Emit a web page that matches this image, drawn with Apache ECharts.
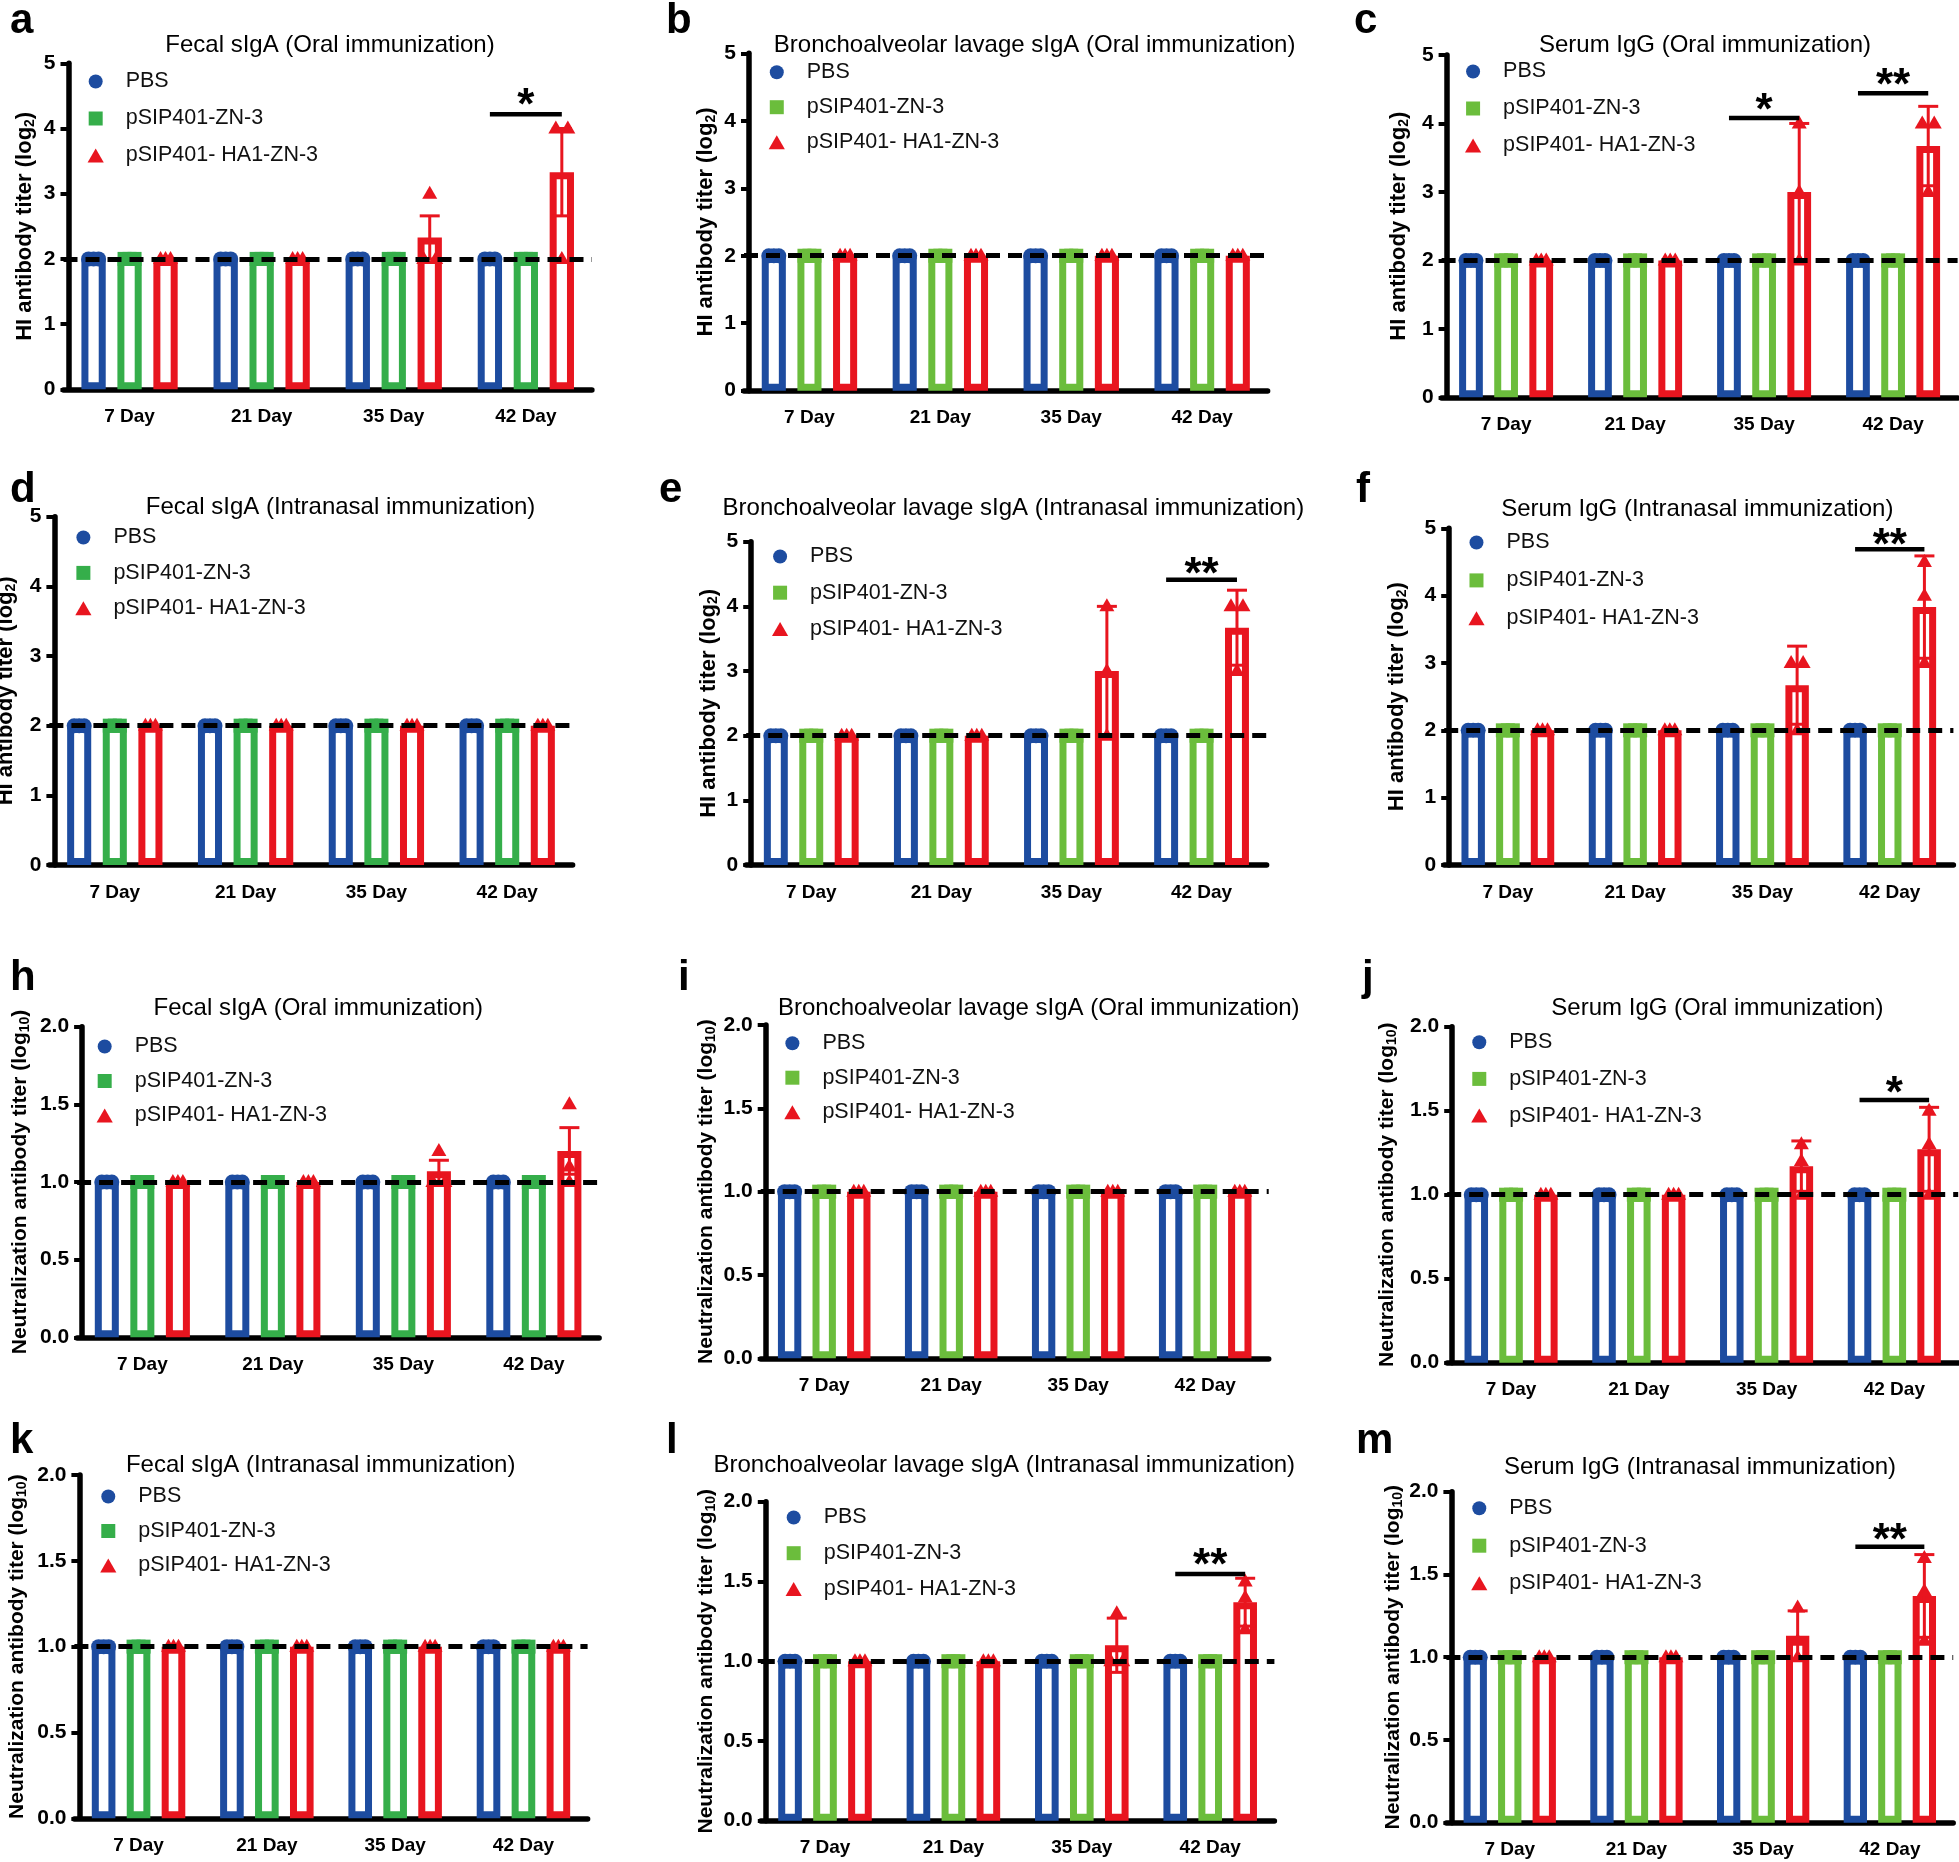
<!DOCTYPE html>
<html>
<head>
<meta charset="utf-8">
<script src="https://cdn.jsdelivr.net/npm/echarts@6/dist/echarts.min.js"></script>
<style>
  html, body { margin: 0; background: #fff; }
  #main { width: 1959px; height: 1862px; }
</style>
</head>
<body>
<div id="main"></div>
<script>
// ---- data ----
const days = ['7 Day', '21 Day', '35 Day', '42 Day'];
const groups = ['PBS', 'pSIP401-ZN-3', 'pSIP401- HA1-ZN-3'];
const panelLetters = ['a', 'b', 'c', 'd', 'e', 'f', 'h', 'i', 'j', 'k', 'l', 'm'];
const panelTitles = [
  'Fecal sIgA (Oral immunization)',
  'Bronchoalveolar lavage sIgA (Oral immunization)',
  'Serum IgG (Oral immunization)',
  'Fecal sIgA (Intranasal immunization)',
  'Bronchoalveolar lavage sIgA (Intranasal immunization)',
  'Serum IgG (Intranasal immunization)',
  'Fecal sIgA (Oral immunization)',
  'Bronchoalveolar lavage sIgA (Oral immunization)',
  'Serum IgG (Oral immunization)',
  'Fecal sIgA (Intranasal immunization)',
  'Bronchoalveolar lavage sIgA (Intranasal immunization)',
  'Serum IgG (Intranasal immunization)'
];
const hiAxisName = '{t|HI antibody titer (log}{s|2}{t|)}';
const ntAxisName = '{t|Neutralization antibody titer (log}{s|10}{t|)}';
const hiTicks = { max: 5, step: 1 };
const ntTicks = { max: 2, step: 0.5 };
const detectionLevel = [2, 2, 2, 2, 2, 2, 1, 1, 1, 1, 1, 1];

// bar means per panel (PBS, ZN-3, HA1-ZN-3)
const pbsMean = [
  [2, 2, 2, 2], [2, 2, 2, 2], [2, 2, 2, 2], [2, 2, 2, 2], [2, 2, 2, 2], [2, 2, 2, 2],
  [1, 1, 1, 1], [1, 1, 1, 1], [1, 1, 1, 1], [1, 1, 1, 1], [1, 1, 1, 1], [1, 1, 1, 1]
];
const znMean = [
  [2, 2, 2, 2], [2, 2, 2, 2], [2, 2, 2, 2], [2, 2, 2, 2], [2, 2, 2, 2], [2, 2, 2, 2],
  [1, 1, 1, 1], [1, 1, 1, 1], [1, 1, 1, 1], [1, 1, 1, 1], [1, 1, 1, 1], [1, 1, 1, 1]
];
const ha1Mean = [
  [2, 2, 2.33, 3.33], [2, 2, 2, 2], [2, 2, 3, 3.67], [2, 2, 2, 2], [2, 2, 3, 3.67], [2, 2, 2.67, 3.83],
  [1, 1, 1.07, 1.2], [1, 1, 1, 1], [1, 1, 1.17, 1.27], [1, 1, 1, 1], [1, 1, 1.1, 1.37], [1, 1, 1.13, 1.37]
];
const ha1Err = [
  [0, 0, 0.33, 0.67], [0, 0, 0, 0], [0, 0, 1, 0.58], [0, 0, 0, 0], [0, 0, 1, 0.58], [0, 0, 0.58, 0.76],
  [0, 0, 0.07, 0.15], [0, 0, 0, 0], [0, 0, 0.15, 0.25], [0, 0, 0, 0], [0, 0, 0.17, 0.15], [0, 0, 0.15, 0.25]
];

// individual animals (3 per group and day)
const pbsPoints = [
  [[2, 2, 2], [2, 2, 2], [2, 2, 2], [2, 2, 2]], [[2, 2, 2], [2, 2, 2], [2, 2, 2], [2, 2, 2]],
  [[2, 2, 2], [2, 2, 2], [2, 2, 2], [2, 2, 2]], [[2, 2, 2], [2, 2, 2], [2, 2, 2], [2, 2, 2]],
  [[2, 2, 2], [2, 2, 2], [2, 2, 2], [2, 2, 2]], [[2, 2, 2], [2, 2, 2], [2, 2, 2], [2, 2, 2]],
  [[1, 1, 1], [1, 1, 1], [1, 1, 1], [1, 1, 1]], [[1, 1, 1], [1, 1, 1], [1, 1, 1], [1, 1, 1]],
  [[1, 1, 1], [1, 1, 1], [1, 1, 1], [1, 1, 1]], [[1, 1, 1], [1, 1, 1], [1, 1, 1], [1, 1, 1]],
  [[1, 1, 1], [1, 1, 1], [1, 1, 1], [1, 1, 1]], [[1, 1, 1], [1, 1, 1], [1, 1, 1], [1, 1, 1]]
];
const znPoints = [
  [[2, 2, 2], [2, 2, 2], [2, 2, 2], [2, 2, 2]], [[2, 2, 2], [2, 2, 2], [2, 2, 2], [2, 2, 2]],
  [[2, 2, 2], [2, 2, 2], [2, 2, 2], [2, 2, 2]], [[2, 2, 2], [2, 2, 2], [2, 2, 2], [2, 2, 2]],
  [[2, 2, 2], [2, 2, 2], [2, 2, 2], [2, 2, 2]], [[2, 2, 2], [2, 2, 2], [2, 2, 2], [2, 2, 2]],
  [[1, 1, 1], [1, 1, 1], [1, 1, 1], [1, 1, 1]], [[1, 1, 1], [1, 1, 1], [1, 1, 1], [1, 1, 1]],
  [[1, 1, 1], [1, 1, 1], [1, 1, 1], [1, 1, 1]], [[1, 1, 1], [1, 1, 1], [1, 1, 1], [1, 1, 1]],
  [[1, 1, 1], [1, 1, 1], [1, 1, 1], [1, 1, 1]], [[1, 1, 1], [1, 1, 1], [1, 1, 1], [1, 1, 1]]
];
const ha1Points = [
  [[2, 2, 2], [2, 2, 2], [2, 2, 3], [2, 4, 4]],
  [[2, 2, 2], [2, 2, 2], [2, 2, 2], [2, 2, 2]],
  [[2, 2, 2], [2, 2, 2], [2, 3, 4], [3, 4, 4]],
  [[2, 2, 2], [2, 2, 2], [2, 2, 2], [2, 2, 2]],
  [[2, 2, 2], [2, 2, 2], [2, 3, 4], [3, 4, 4]],
  [[2, 2, 2], [2, 2, 2], [2, 3, 3], [3, 4, 4.5]],
  [[1, 1, 1], [1, 1, 1], [1, 1, 1.2], [1, 1.1, 1.5]],
  [[1, 1, 1], [1, 1, 1], [1, 1, 1], [1, 1, 1]],
  [[1, 1, 1], [1, 1, 1], [1, 1.2, 1.3], [1, 1.3, 1.5]],
  [[1, 1, 1], [1, 1, 1], [1, 1, 1], [1, 1, 1]],
  [[1, 1, 1], [1, 1, 1], [1, 1, 1.3], [1.2, 1.4, 1.5]],
  [[1, 1, 1], [1, 1, 1], [1, 1.1, 1.3], [1.1, 1.4, 1.6]]
];
// significance: panel, day index, bracket level, star level, label
const sigMarks = [
  [0, 3, 4.22, 4.49, '*'],
  [2, 2, 4.08, 4.32, '*'],
  [2, 3, 4.44, 4.68, '**'],
  [4, 3, 4.41, 4.62, '**'],
  [5, 3, 4.69, 4.88, '**'],
  [8, 3, 1.564, 1.653, '*'],
  [10, 3, 1.547, 1.655, '**'],
  [11, 3, 1.668, 1.758, '**']
];

// ---- layout ----
const panelBox = [ // left, top, width, height of plot area
  [63.5, 63.3, 528.4, 326], [744, 53.3, 523.6, 337.4], [1441.6, 55, 516, 342.3],
  [49.4, 516.7, 523.2, 348.3], [746.2, 541.7, 520.4, 323.3], [1444.2, 528.3, 509.2, 336.7],
  [77.1, 1026.7, 522, 310.6], [760.7, 1025, 508, 333.3], [1447.2, 1026.7, 511, 336],
  [74.4, 1475, 513.2, 343.3], [760.8, 1501.7, 513.6, 319], [1446.4, 1491.7, 506.8, 331]
];
const titlePos = [
  [330, 45], [1034.6, 45], [1705, 45], [340.6, 507.3], [1013.4, 508.3], [1697.3, 509.3],
  [318.3, 1008.3], [1038.8, 1008.3], [1717.4, 1008.3], [320.7, 1465], [1004.3, 1465], [1700, 1466.7]
];
const legendPos = [ // icon centre x, first row centre y, row pitch
  [94.6, 80, 37], [775.7, 70.7, 35], [1472, 70, 37], [82.3, 536, 35.4], [779, 555, 36.2], [1475.4, 541, 37.9],
  [103.6, 1045, 34.5], [791.3, 1041.7, 34.5], [1478.2, 1040.7, 36.7], [107.2, 1495, 34.5], [792.6, 1516, 35.7], [1478.2, 1506.7, 37.5]
];
const nameCenterX = [25, 706, 1399, 5.7, 708.5, 1397, 19.8, 706, 1387, 17.2, 706, 1393];
const letterPos = [
  [10, 42], [666, 42], [1354, 42], [10, 511], [659, 511], [1356, 511],
  [10, 999], [678, 999], [1362, 999], [10, 1462], [666, 1462], [1356, 1462]
];

const FONT = '"Liberation Sans", Arial, Helvetica, sans-serif';
const BLUE = '#1d4ca0';
const RED = '#e8151f';
const GREEN_LEFT = '#35ae4a';
const GREEN_OTHER = '#6bbd3c';
const BAR_W = 0.184;     // bar width as share of category band (stroke drawn inside)
const BAR_GAP = 0.48;    // gap as share of bar width
const BAR_STEP = BAR_W * (1 + BAR_GAP);
const Y_OFFSET = 5;

// spread identical replicate values sideways, like a column scatter
function jitter(vals) {
  return vals.map((v, i) => {
    const same = vals.map((w, k) => [w, k]).filter(e => e[0] === v);
    const n = same.length;
    const k = same.findIndex(e => e[1] === i);
    const s = n === 2 ? 12 : 5;
    return (k - (n - 1) / 2) * s;
  });
}

function pointRender(colors) {
  return function (params, api) {
    const d = api.value(0), v = api.value(1), g = api.value(2), j = api.value(3);
    const band = api.size([1, 0])[0];
    const c = api.coord([d, v]);
    const x = c[0] + (g - 1) * band * BAR_STEP + j, y = c[1];
    const fill = colors[g];
    if (g === 0) return { type: 'circle', shape: { cx: x, cy: y, r: 7.5 }, style: { fill } };
    if (g === 1) return { type: 'rect', shape: { x: x - 7, y: y - 7, width: 14, height: 14 }, style: { fill } };
    return { type: 'polygon', shape: { points: [[x, y - 8], [x + 7.5, y + 5], [x - 7.5, y + 5]] }, style: { fill } };
  };
}

function errRender(params, api) {
  const d = api.value(0), m = api.value(1), e = api.value(2);
  if (!e) return null;
  const band = api.size([1, 0])[0];
  const x = api.coord([d, m])[0] + band * BAR_STEP;
  const yHi = api.coord([d, m + e])[1], yLo = api.coord([d, m - e])[1];
  const st = { stroke: RED, lineWidth: 3 };
  return {
    type: 'group', children: [
      { type: 'line', shape: { x1: x, y1: yHi, x2: x, y2: yLo }, style: st },
      { type: 'line', shape: { x1: x - 10, y1: yHi, x2: x + 10, y2: yHi }, style: st },
      { type: 'line', shape: { x1: x - 10, y1: yLo, x2: x + 10, y2: yLo }, style: st }
    ]
  };
}

function sigRender(labels) {
  return function (params, api) {
    const d = api.value(0), lv = api.value(1), sv = api.value(2);
    const band = api.size([1, 0])[0];
    const c = api.coord([d, lv]);
    const x1 = c[0] - band * BAR_STEP, x2 = c[0] + band * BAR_STEP;
    const ys = api.coord([d, sv])[1];
    return {
      type: 'group', children: [
        { type: 'line', shape: { x1: x1, y1: c[1], x2: x2, y2: c[1] }, style: { stroke: '#000', lineWidth: 4.5 } },
        { type: 'text', style: { text: labels[params.dataIndex], x: c[0], y: ys + 10, font: 'bold 44px ' + FONT, fill: '#000', align: 'center', verticalAlign: 'middle' } }
      ]
    };
  };
}

const grids = [], xAxes = [], yAxes = [], series = [], titles = [], legends = [];

panelBox.forEach((b, p) => {
  const hi = p < 6;
  const ticks = hi ? hiTicks : ntTicks;
  const green = p % 3 === 0 ? GREEN_LEFT : GREEN_OTHER;
  const colors = [BLUE, green, RED];
  const nameSize = hi ? 22 : 21;

  grids.push({ left: b[0], top: b[1], width: b[2], height: b[3], containLabel: false, outerBoundsMode: 'none' });

  xAxes.push({
    gridIndex: p, type: 'category', data: days,
    axisLine: { lineStyle: { color: '#000', width: 5.5 } },
    axisTick: { alignWithLabel: true, length: 9, lineStyle: { color: '#000', width: 5 } },
    axisLabel: { fontSize: 19, fontWeight: 'bold', color: '#000', fontFamily: FONT, margin: 18 },
    splitLine: { show: false }
  });

  yAxes.push({
    gridIndex: p, type: 'value', min: 0, max: ticks.max, interval: ticks.step, offset: -Y_OFFSET,
    axisLine: { show: true, lineStyle: { color: '#000', width: 5.5 } },
    axisTick: { show: true, length: 8, lineStyle: { color: '#000', width: 4 } },
    axisLabel: {
      fontSize: 21, fontWeight: 'bold', color: '#000', fontFamily: FONT, margin: 13,
      formatter: v => hi ? String(v) : v.toFixed(1)
    },
    splitLine: { show: false },
    name: hi ? hiAxisName : ntAxisName,
    nameLocation: 'middle',
    nameMoveOverlap: false,
    nameGap: b[0] + Y_OFFSET - nameCenterX[p] - 12,
    nameTextStyle: {
      rich: {
        t: { fontSize: nameSize, fontWeight: 'bold', fontFamily: FONT, color: '#000', lineHeight: 24 },
        s: { fontSize: 14, fontWeight: 'bold', fontFamily: FONT, color: '#000', lineHeight: 14, verticalAlign: 'bottom' }
      }
    }
  });

  const means = [pbsMean[p], znMean[p], ha1Mean[p]];
  means.forEach((m, g) => {
    series.push({
      type: 'bar', name: groups[g], xAxisIndex: p, yAxisIndex: p, data: m,
      barWidth: (BAR_W * 100) + '%', barGap: (BAR_GAP * 100) + '%',
      itemStyle: { color: '#fff', borderColor: colors[g], borderWidth: 7 },
      silent: true, z: 2
    });
  });

  series.push({
    type: 'custom', xAxisIndex: p, yAxisIndex: p, z: 3, silent: true, clip: false,
    renderItem: errRender,
    data: ha1Mean[p].map((m, d) => [d, m, ha1Err[p][d]])
  });

  const pts = [];
  [pbsPoints[p], znPoints[p], ha1Points[p]].forEach((byDay, g) => {
    byDay.forEach((vals, d) => {
      const js = jitter(vals);
      vals.forEach((v, k) => pts.push([d, v, g, js[k]]));
    });
  });
  series.push({
    type: 'custom', xAxisIndex: p, yAxisIndex: p, z: 4, silent: true, clip: false,
    renderItem: pointRender(colors),
    data: pts,
    markLine: {
      silent: true, symbol: ['none', 'none'], label: { show: false },
      lineStyle: { color: '#000', width: 5, type: [14, 8] },
      data: [{ yAxis: detectionLevel[p] }]
    }
  });

  const sig = sigMarks.filter(s => s[0] === p);
  if (sig.length) {
    series.push({
      type: 'custom', xAxisIndex: p, yAxisIndex: p, z: 5, silent: true, clip: false,
      renderItem: sigRender(sig.map(s => s[4])),
      data: sig.map(s => [s[1], s[2], s[3]])
    });
  }

  titles.push({
    text: panelTitles[p], left: titlePos[p][0], top: titlePos[p][1] + 0.5, padding: 0,
    textAlign: 'center', textVerticalAlign: 'middle',
    textStyle: { fontSize: 24, fontWeight: 'normal', color: '#000', fontFamily: FONT }
  });

  const lp = legendPos[p];
  legends.push({
    orient: 'vertical', left: lp[0] - 7, top: lp[1] - 10.5, padding: 0,
    itemWidth: 50, itemHeight: 14, itemGap: lp[2] - 24, selectedMode: false,
    textStyle: { fontSize: 21.5, color: '#111', fontFamily: FONT, lineHeight: 24 },
    data: [
      { name: groups[0], icon: 'circle', itemStyle: { color: BLUE, borderWidth: 0 } },
      { name: groups[1], icon: 'path://M0,0H10V10H0Z', itemStyle: { color: green, borderWidth: 0 } },
      { name: groups[2], icon: 'path://M5,0L10,8.66H0Z', itemStyle: { color: RED, borderWidth: 0 } }
    ]
  });
});

const chart = echarts.init(document.getElementById('main'));
chart.setOption({
  animation: false,
  backgroundColor: '#fff',
  textStyle: { fontFamily: FONT },
  title: titles,
  legend: legends,
  grid: grids,
  xAxis: xAxes,
  yAxis: yAxes,
  series: series,
  graphic: panelLetters.map((t, i) => ({
    type: 'text', x: letterPos[i][0], y: letterPos[i][1], silent: true,
    style: { text: t, font: 'bold 42px ' + FONT, fill: '#000', verticalAlign: 'bottom' }
  }))
});
</script>
</body>
</html>
